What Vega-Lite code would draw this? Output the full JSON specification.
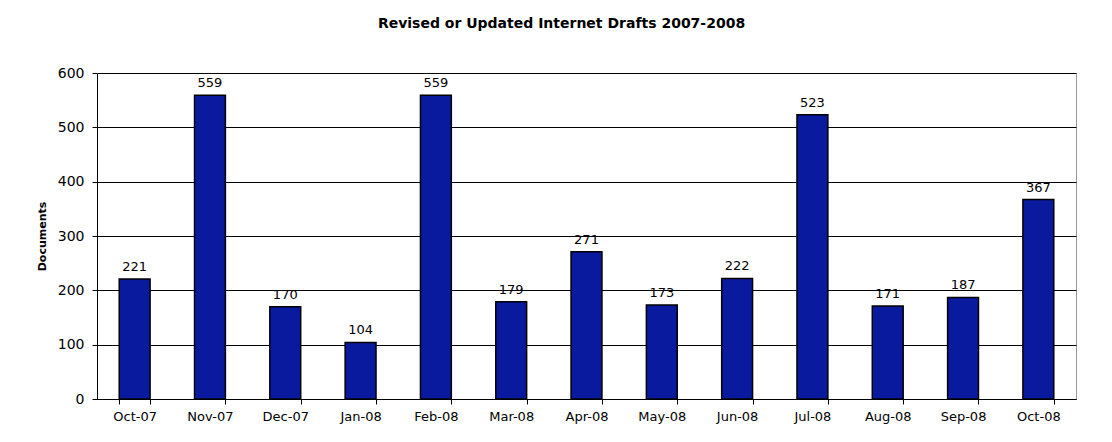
{
  "$schema": "https://vega.github.io/schema/vega-lite/v6.json",
  "autosize": {"type": "none"},
  "width": 979,
  "height": 326,
  "padding": {"left": 97, "top": 73, "right": 36, "bottom": 43},
  "background": "white",
  "title": {
    "text": "Revised or Updated Internet Drafts 2007-2008",
    "font": "DejaVu Sans",
    "fontSize": 14,
    "fontWeight": "bold",
    "color": "black",
    "anchor": "middle",
    "dx": -25,
    "offset": 35
  },
  "config": {
    "view": {"stroke": "#999999", "strokeWidth": 1},
    "axis": {
      "labelFont": "DejaVu Sans",
      "labelColor": "black",
      "titleFont": "DejaVu Sans",
      "titleColor": "black",
      "domainColor": "black",
      "tickColor": "black",
      "gridColor": "black",
      "gridOpacity": 1
    }
  },
  "data": {
    "values": [
      {"month": "Oct-07", "docs": 221},
      {"month": "Nov-07", "docs": 559},
      {"month": "Dec-07", "docs": 170},
      {"month": "Jan-08", "docs": 104},
      {"month": "Feb-08", "docs": 559},
      {"month": "Mar-08", "docs": 179},
      {"month": "Apr-08", "docs": 271},
      {"month": "May-08", "docs": 173},
      {"month": "Jun-08", "docs": 222},
      {"month": "Jul-08", "docs": 523},
      {"month": "Aug-08", "docs": 171},
      {"month": "Sep-08", "docs": 187},
      {"month": "Oct-08", "docs": 367}
    ]
  },
  "encoding": {
    "x": {
      "field": "month",
      "type": "nominal",
      "sort": null,
      "scale": {"paddingInner": 0.59, "paddingOuter": 0.295},
      "axis": {
        "title": null,
        "labelAngle": 0,
        "labelFontSize": 13,
        "labelPadding": 6,
        "tickBand": "extent",
        "tickSize": 5,
        "grid": false
      }
    },
    "y": {
      "field": "docs",
      "type": "quantitative",
      "scale": {"domain": [0, 600], "nice": false},
      "axis": {
        "title": "Documents",
        "titleFontSize": 11,
        "titleFontWeight": "bold",
        "titlePadding": 10,
        "values": [0, 100, 200, 300, 400, 500, 600],
        "labelFontSize": 14,
        "labelPadding": 8,
        "tickSize": 5,
        "grid": true
      }
    }
  },
  "layer": [
    {
      "mark": {"type": "bar", "color": "#0A1A9E", "stroke": "black", "strokeWidth": 1.5}
    },
    {
      "mark": {"type": "text", "baseline": "bottom", "dy": -5, "font": "DejaVu Sans", "fontSize": 13, "color": "black"},
      "encoding": {"text": {"field": "docs", "type": "quantitative"}}
    }
  ]
}
